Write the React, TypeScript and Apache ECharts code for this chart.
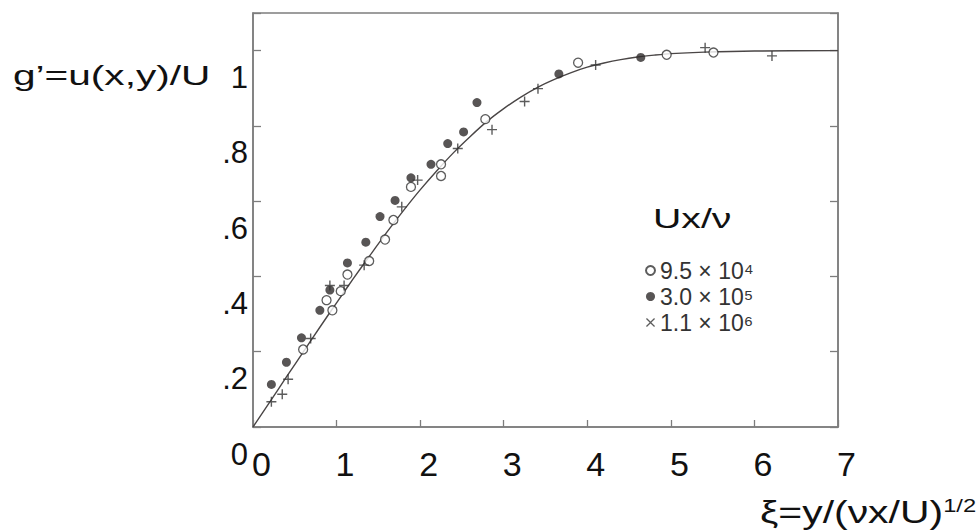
import React, { useEffect, useRef } from "react";
import * as echarts from "echarts";

// Blasius-type velocity profile: [xi, g']
const curvePoints: [number, number][] = [
  [0, 0], [0.2, 0.066], [0.4, 0.133], [0.6, 0.199], [0.8, 0.265], [1.0, 0.33],
  [1.2, 0.394], [1.4, 0.456], [1.6, 0.517], [1.8, 0.575], [2.0, 0.63],
  [2.2, 0.681], [2.4, 0.729], [2.6, 0.772], [2.8, 0.812], [3.0, 0.846],
  [3.2, 0.876], [3.4, 0.902], [3.6, 0.923], [3.8, 0.941], [4.0, 0.956],
  [4.2, 0.967], [4.4, 0.976], [4.6, 0.983], [4.8, 0.988], [5.0, 0.992],
  [5.4, 0.996], [6.0, 0.999], [7.0, 1.0],
];

// Ux/nu = 9.5 x 10^4 (open circles)
const openPoints: [number, number][] = [
  [0.60, 0.206], [0.88, 0.337], [0.95, 0.31], [1.05, 0.361], [1.13, 0.405],
  [1.39, 0.441], [1.58, 0.498], [1.68, 0.55], [1.89, 0.638], [2.25, 0.698],
  [2.25, 0.667], [2.78, 0.818], [3.89, 0.968], [4.95, 0.989], [5.51, 0.995],
];

// Ux/nu = 3.0 x 10^5 (filled circles)
const filledPoints: [number, number][] = [
  [0.22, 0.113], [0.40, 0.172], [0.58, 0.237], [0.80, 0.31], [0.92, 0.364],
  [1.13, 0.436], [1.35, 0.491], [1.52, 0.559], [1.70, 0.602], [1.89, 0.662],
  [2.13, 0.698], [2.33, 0.753], [2.52, 0.784], [2.68, 0.862], [3.66, 0.938],
  [4.64, 0.982],
];

// Ux/nu = 1.1 x 10^6 (crosses)
const crossPoints: [number, number][] = [
  [0.22, 0.067], [0.35, 0.087], [0.42, 0.127], [0.69, 0.235], [0.92, 0.376],
  [1.09, 0.376], [1.33, 0.43], [1.78, 0.585], [1.97, 0.656], [2.45, 0.74],
  [2.86, 0.79], [3.25, 0.865], [3.41, 0.899], [4.10, 0.962], [5.41, 1.008],
  [6.21, 0.986],
];

const seriesNames = ["9.5 × 10⁴", "3.0 × 10⁵", "1.1 × 10⁶"];
const yTickLabels: Record<string, string> = {
  "0": "0", "0.2": ".2", "0.4": ".4", "0.6": ".6", "0.8": ".8", "1": "1",
};

const yTitle = "g’=u(x,y)/U";
const legendTitle = "Ux/ν";
const xTitleMain = "ξ=y/(νx/U)";
const xTitleSup = "1/2";

const FONT = "'Liberation Sans', Arial, Helvetica, sans-serif";
const FRAME = "#7d7d7d";
const INK = "#2e2b2b";

const plusPath = "path://M4.3,0H5.7V4.3H10V5.7H5.7V10H4.3V5.7H0V4.3H4.3Z";
const timesPath = "path://M0,1L1,0L5,4L9,0L10,1L6,5L10,9L9,10L5,6L1,10L0,9L4,5Z";

export default function App() {
  const ref = useRef<HTMLDivElement>(null);

  useEffect(() => {
    if (!ref.current) return;
    const chart = echarts.init(ref.current, undefined, { renderer: "svg" });
    const yLabelFormatter = (v: number) => {
      const key = String(Math.round(v * 10) / 10);
      return yTickLabels[key] ?? "";
    };
    chart.setOption({
      animation: false,
      backgroundColor: "#ffffff",
      grid: {
        left: 253,
        top: 13,
        width: 585,
        height: 414,
        show: true,
        borderColor: FRAME,
        borderWidth: 1.5,
        backgroundColor: "transparent",
      },
      legend: {
        orient: "vertical",
        left: 640,
        top: 254,
        itemWidth: 9,
        itemHeight: 9,
        itemGap: 3,
        selectedMode: false,
        textStyle: {
          fontFamily: FONT,
          fontSize: 23,
          lineHeight: 22,
          color: "#333",
        },
        data: [
          { name: seriesNames[0], icon: "circle" },
          { name: seriesNames[1], icon: "circle" },
          { name: seriesNames[2], icon: timesPath },
        ],
      },
      xAxis: {
        type: "value",
        min: 0,
        max: 7,
        interval: 1,
        axisLine: { show: true, lineStyle: { color: FRAME, width: 1.5 } },
        axisTick: { show: true, inside: true, length: 7, lineStyle: { color: FRAME, width: 1.3 } },
        splitLine: { show: false },
        axisLabel: {
          fontFamily: FONT,
          fontSize: 34,
          color: "#111",
          margin: 37,
          verticalAlign: "middle",
          padding: [0, 0, 0, 17],
        },
      },
      yAxis: [
        {
          type: "value",
          min: 0,
          max: 1.1,
          interval: 0.2,
          axisLine: { show: true, lineStyle: { color: FRAME, width: 1.5 } },
          axisTick: { show: true, inside: true, length: 8, lineStyle: { color: FRAME, width: 1.3 } },
          splitLine: { show: false },
          axisLabel: {
            fontFamily: FONT,
            fontSize: 31,
            color: "#111",
            margin: 5,
            verticalAlign: "top",
            lineHeight: 54,
            formatter: yLabelFormatter,
          },
        },
        {
          type: "value",
          position: "right",
          min: 0,
          max: 1.1,
          interval: 0.2,
          axisLine: { show: true, lineStyle: { color: FRAME, width: 1.5 } },
          axisTick: { show: true, inside: true, length: 8, lineStyle: { color: FRAME, width: 1.3 } },
          splitLine: { show: false },
          axisLabel: { show: false },
        },
      ],
      series: [
        {
          name: "Blasius",
          type: "line",
          data: curvePoints,
          smooth: 0.3,
          showSymbol: false,
          symbol: "none",
          z: 1,
          lineStyle: { color: "#4a4646", width: 1.4 },
        },
        {
          name: seriesNames[0],
          type: "scatter",
          data: openPoints,
          symbol: "circle",
          symbolSize: 9,
          z: 3,
          itemStyle: { color: "#ffffff", borderColor: "#333", borderWidth: 1.3 },
        },
        {
          name: seriesNames[1],
          type: "scatter",
          data: filledPoints,
          symbol: "circle",
          symbolSize: 9,
          z: 3,
          itemStyle: { color: INK },
        },
        {
          name: seriesNames[2],
          type: "scatter",
          data: crossPoints,
          symbol: plusPath,
          symbolSize: 10,
          z: 3,
          itemStyle: { color: "#333" },
        },
      ],
      graphic: [
        {
          type: "text",
          x: 13,
          y: 75,
          scaleX: 1.45,
          style: {
            text: yTitle,
            fontFamily: FONT,
            fontSize: 28,
            fill: "#111",
            textAlign: "left",
            textVerticalAlign: "middle",
          },
        },
        {
          type: "text",
          x: 653,
          y: 218,
          scaleX: 1.4,
          style: {
            text: legendTitle,
            fontFamily: FONT,
            fontSize: 28,
            fill: "#111",
            textAlign: "left",
            textVerticalAlign: "middle",
          },
        },
        {
          type: "text",
          x: 760,
          y: 512,
          scaleX: 1.32,
          style: {
            text: "{a|" + xTitleMain + "}{s|" + xTitleSup + "}",
            fontFamily: FONT,
            fontSize: 31,
            fill: "#111",
            textAlign: "left",
            textVerticalAlign: "middle",
            rich: {
              a: { fontFamily: FONT, fontSize: 31, fill: "#111" },
              s: { fontFamily: FONT, fontSize: 18, fill: "#111", verticalAlign: "top" },
            },
          },
        },
      ],
    });
    return () => chart.dispose();
  }, []);

  return (
    <div
      ref={ref}
      style={{ position: "absolute", left: 0, top: 0, width: 976, height: 530, background: "#fff" }}
    />
  );
}
